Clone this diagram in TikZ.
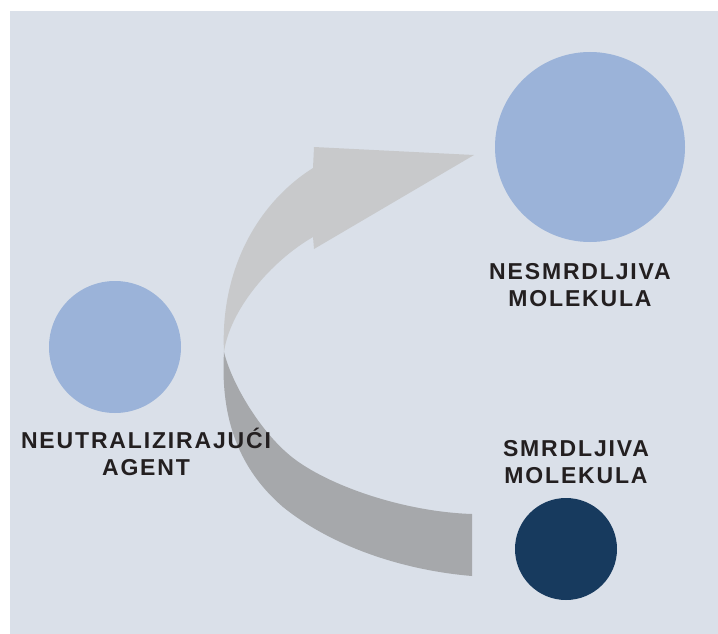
\documentclass[tikz,border=0pt]{standalone}
\usepackage{fontspec}
\setmainfont{Liberation Sans}
\newfontfamily\labelfont{Liberation Sans}[LetterSpace=8]
\usetikzlibrary{calc}

\definecolor{panelbg}{RGB}{218,224,233}
\definecolor{molblue}{RGB}{155,179,217}
\definecolor{molnavy}{RGB}{23,58,94}
\definecolor{ribbonlight}{RGB}{200,201,203}
\definecolor{ribbondark}{RGB}{166,168,171}
\definecolor{labelink}{RGB}{35,31,32}

\tikzset{
  mol/.style={circle, inner sep=0pt, draw=none},
  lbl/.style={font=\labelfont\bfseries\fontsize{23}{27}\selectfont, text=labelink,
              align=center, inner sep=0pt, anchor=base}
}

\begin{document}
\begin{tikzpicture}[x=1pt,y=-1pt]
\useasboundingbox (0,0) rectangle (718,634);
\fill[panelbg] (10,11) rectangle (718,634);

%ribbon points
\coordinate (T)  at (224,352);   %twist
\coordinate (HO) at (313,168);   %head, outer joint
\coordinate (HI) at (313,237);   %head, inner joint
\coordinate (B1) at (314,147);   %upper barb
\coordinate (B2) at (314,249);   %lower barb
\coordinate (P)  at (474,155);   %tip
\coordinate (MO) at (283,507);
\coordinate (MI) at (300,463);
\coordinate (EO) at (472,576);   %tail, outer
\coordinate (EI) at (472,514);   %tail, inner

%ribbon, upper face with head
\fill[ribbonlight] (T) .. controls (220,272) and (256,204) .. (HO)
  -- (B1) -- (P) -- (B2) -- (HI)
  .. controls (270,262) and (230,310) .. (T) -- cycle;

%ribbon, lower face with tail
\fill[ribbondark] (T) .. controls (220,420) and (240,470) .. (MO)
  .. controls (330,545) and (400,570) .. (EO) -- (EI)
  .. controls (410,512) and (340,490) .. (MI)
  .. controls (264,439) and (232,385) .. (T) -- cycle;

%molecules
\node[mol, fill=molblue, minimum size=190pt] (fresh) at (590,147) {};
\node[mol, fill=molblue, minimum size=132pt] (agent) at (115,347) {};
\node[mol, fill=molnavy, minimum size=102pt] (smelly) at (566,549) {};

%labels (anchored at baseline of last line)
\node[lbl] (agentlbl)  at (146,475) {NEUTRALIZIRAJUĆI\\AGENT};
\node[lbl] (freshlbl)  at (580,306) {NESMRDLJIVA\\MOLEKULA};
\node[lbl] (smellylbl) at (576,483) {SMRDLJIVA\\MOLEKULA};

\end{tikzpicture}
\end{document}
